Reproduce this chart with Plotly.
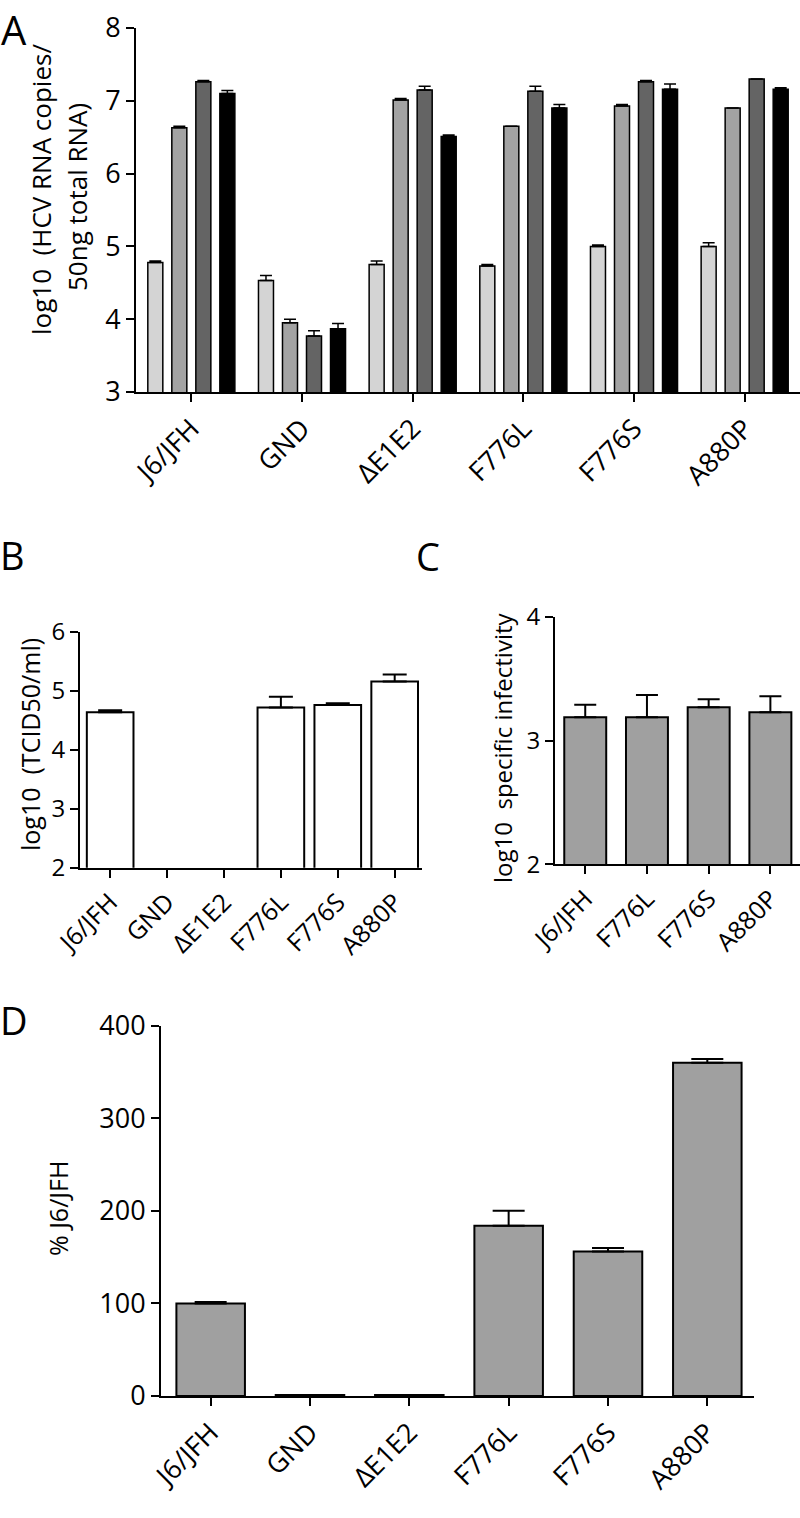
import plotly.graph_objects as go

W, H = 800, 1518
FONT = "Open Sans"

# ---------------- data ----------------
cats_a = ["J6/JFH", "GND", "ΔE1E2", "F776L", "F776S", "A880P"]
a_s1 = [4.78, 4.53, 4.75, 4.73, 5.00, 5.00]
a_s1_err = [0.02, 0.07, 0.05, 0.02, 0.02, 0.05]
a_s2 = [6.63, 3.95, 7.01, 6.65, 6.93, 6.90]
a_s2_err = [0.02, 0.05, 0.02, 0.0, 0.02, 0.0]
a_s3 = [7.26, 3.77, 7.15, 7.13, 7.26, 7.30]
a_s3_err = [0.02, 0.07, 0.05, 0.07, 0.02, 0.0]
a_s4 = [7.10, 3.87, 6.51, 6.90, 7.16, 7.16]
a_s4_err = [0.04, 0.07, 0.02, 0.05, 0.07, 0.02]

cats_b = ["J6/JFH", "GND", "ΔE1E2", "F776L", "F776S", "A880P"]
b_vals = [4.64, None, None, 4.72, 4.76, 5.16]
b_err = [0.03, 0, 0, 0.18, 0.03, 0.12]

cats_c = ["J6/JFH", "F776L", "F776S", "A880P"]
c_vals = [3.19, 3.19, 3.27, 3.23]
c_err = [0.10, 0.18, 0.065, 0.13]

cats_d = ["J6/JFH", "GND", "ΔE1E2", "F776L", "F776S", "A880P"]
d_vals = [100, 1, 1, 184, 156, 360]
d_err = [1.5, 0, 0, 16, 4, 4]

a_colors = ["#d4d4d4", "#a3a3a3", "#646464", "#000000"]
gray = "#a0a0a0"

# ---------------- helpers ----------------
def fx(px):
    return px / W

def fy(py):
    return (H - py) / H

def err(arr, w, th=2):
    return dict(type="data", symmetric=False, array=arr, arrayminus=[0] * len(arr),
                color="black", thickness=th, width=w, visible=True)

fig = go.Figure()

# Panel A
for vals, e, col in zip([a_s1, a_s2, a_s3, a_s4],
                        [a_s1_err, a_s2_err, a_s3_err, a_s4_err], a_colors):
    fig.add_trace(go.Bar(x=cats_a, y=vals, marker=dict(color=col, line=dict(color="black", width=1.5)),
                         error_y=err(e, 6, 1.5), xaxis="x", yaxis="y", showlegend=False))

# Panel B
fig.add_trace(go.Bar(x=cats_b, y=b_vals, width=0.82,
                     marker=dict(color="white", line=dict(color="black", width=2)),
                     error_y=err(b_err, 12), xaxis="x2", yaxis="y2", showlegend=False))
# Panel C
fig.add_trace(go.Bar(x=cats_c, y=c_vals, width=0.68,
                     marker=dict(color=gray, line=dict(color="black", width=2)),
                     error_y=err(c_err, 11), xaxis="x3", yaxis="y3", showlegend=False))
# Panel D
fig.add_trace(go.Bar(x=cats_d, y=d_vals, width=0.69,
                     marker=dict(color=gray, line=dict(color="black", width=2)),
                     error_y=err(d_err, 16), xaxis="x4", yaxis="y4", showlegend=False))

def xax(domain, anchor, rng, size):
    return dict(domain=domain, anchor=anchor, range=rng, type="category",
                showline=True, linecolor="black", linewidth=2, ticks="outside",
                ticklen=8, tickwidth=2, tickcolor="black", tickangle=-45,
                tickfont=dict(family=FONT, size=size, color="black"),
                showgrid=False, zeroline=False, fixedrange=True, automargin=False)

def yax(domain, anchor, rng, dtick, size):
    return dict(domain=domain, anchor=anchor, range=rng, dtick=dtick,
                showline=True, linecolor="black", linewidth=2, ticks="outside",
                ticklen=8, tickwidth=2, tickcolor="black",
                tickfont=dict(family=FONT, size=size, color="black"),
                showgrid=False, zeroline=False, fixedrange=True, automargin=False)

fig.update_layout(
    template="none",
    width=W, height=H, margin=dict(l=0, r=0, t=0, b=0, pad=0), autosize=False,
    paper_bgcolor="white", plot_bgcolor="white",
    barmode="group", bargap=0.132, bargroupgap=0.375,
    font=dict(family=FONT, color="black"),
    xaxis=xax([fx(136), 1.0], "y", [-0.5, 5.5], 27),
    yaxis=yax([fy(392), fy(28)], "x", [3, 8], 1, 27),
    xaxis2=xax([fx(80), fx(422)], "y2", [-0.53, 5.48], 25),
    yaxis2=yax([fy(867.7), fy(632)], "x2", [2, 6], 1, 24),
    xaxis3=xax([fx(555), 1.0], "y3", [-0.49, 3.48], 25),
    yaxis3=yax([fy(864.3), fy(617)], "x3", [2, 4], 1, 24),
    xaxis4=xax([fx(161), fx(754)], "y4", [-0.5, 5.47], 27),
    yaxis4=yax([fy(1396), fy(1025.7)], "x4", [0, 400], 100, 27),
)

def ann(text, cx, cy, size, angle=0, xanchor="center", yanchor="middle"):
    fig.add_annotation(text=text, x=fx(cx), y=fy(cy), xref="paper", yref="paper",
                       showarrow=False, textangle=angle, xanchor=xanchor, yanchor=yanchor,
                       font=dict(family=FONT, size=size, color="black"))

# axis titles
ann("log10  (HCV RNA copies/", 41, 190, 26, -90)
ann("50ng total RNA)", 77, 197, 26, -90)
ann("log10  (TCID50/ml)", 30, 745, 25, -90)
ann("log10  specific infectivity", 502, 748, 24, -90)
ann("% J6/JFH", 58, 1208, 25, -90)

# panel letters
ann("A", 14, 0, 40, yanchor="top")
ann("B", 12, 555, 38)
ann("C", 428, 556, 38)
ann("D", 14, 1020, 38)

fig.write_html("out.html", config={"displayModeBar": False, "staticPlot": True},
               post_script="document.body.style.margin='0px';")
